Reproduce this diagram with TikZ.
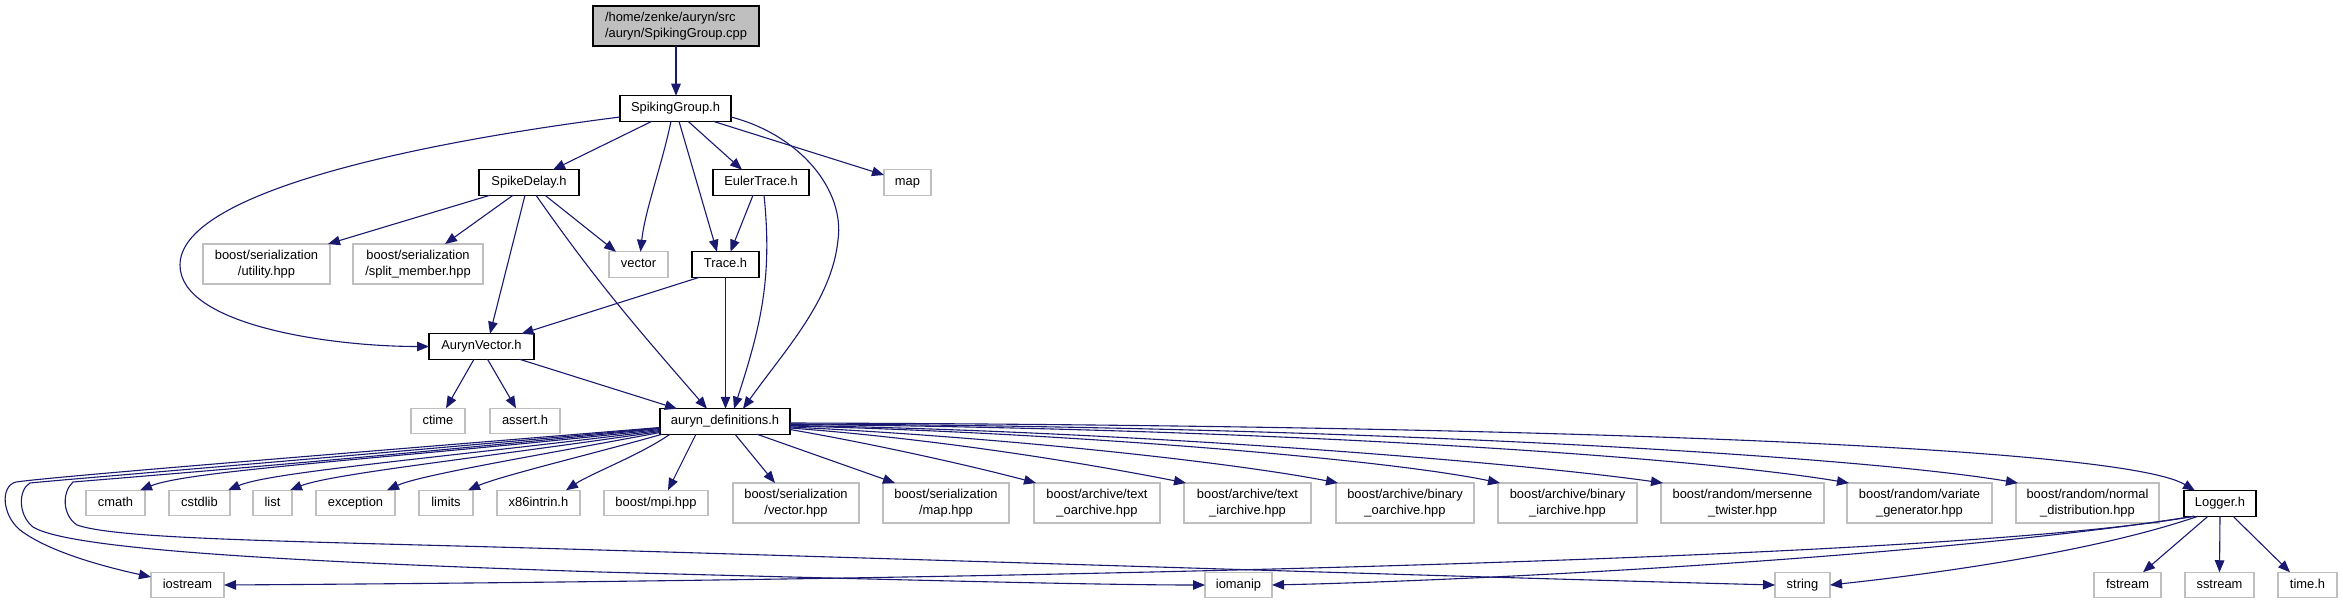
\documentclass[tikz,border=0pt]{standalone}
\usepackage{fontspec}
\setmainfont{Liberation Sans}
\usetikzlibrary{arrows.meta}
\definecolor{edgec}{HTML}{191970}
\definecolor{extc}{HTML}{BFBFBF}
\begin{document}
\begin{tikzpicture}[x=1pt,y=-1pt,
  nbox/.style={rectangle, inner sep=0pt, outer sep=0pt, line width=1.2pt, font=\fontsize{12.9}{15.5}\selectfont, align=center},
  doc/.style={nbox, draw=black, fill=white},
  ext/.style={nbox, draw=extc, fill=white},
  one/.style={minimum height=25.5pt, text height=9.4pt, text depth=2.8pt},
  two/.style={minimum height=40pt},
  conn/.style={draw=edgec, line width=1.1pt, -{Triangle[length=12pt,width=9.5pt]}}
]
\useasboundingbox (0,0) rectangle (2343,604);
\fill[white] (0,0) rectangle (2343,604);

% nodes
\node[doc, two, fill=extc, align=left, minimum width=166pt] (top) at (676,26) {/home/zenke/auryn/src\\/auryn/SpikingGroup.cpp};
\node[doc, one, minimum width=111pt] (SG) at (675.5,108.5) {SpikingGroup.h};
\node[doc, one, minimum width=100pt] (SD) at (529,182.5) {SpikeDelay.h};
\node[doc, one, minimum width=96pt] (ET) at (761,182.5) {EulerTrace.h};
\node[ext, one, minimum width=47pt] (map) at (907.5,182.5) {map};
\node[ext, two, minimum width=127pt] (util) at (266.5,264) {boost/serialization\\/utility.hpp};
\node[ext, two, minimum width=130pt] (split) at (418,264) {boost/serialization\\/split\_member.hpp};
\node[ext, one, minimum width=59pt] (vec) at (638.5,264.5) {vector};
\node[doc, one, minimum width=67pt] (trace) at (725.5,264.5) {Trace.h};
\node[doc, one, minimum width=105pt] (AV) at (481.5,346.5) {AurynVector.h};
\node[ext, one, minimum width=54pt] (ctime) at (438,421) {ctime};
\node[ext, one, minimum width=70pt] (assert) at (525,421) {assert.h};
\node[doc, one, minimum width=130pt] (AD) at (725,421.5) {auryn\_definitions.h};

\node[ext, one, minimum width=59pt] (cmath) at (115.5,503) {cmath};
\node[ext, one, minimum width=61pt] (cstdlib) at (199.5,503) {cstdlib};
\node[ext, one, minimum width=39pt] (list) at (272.5,503) {list};
\node[ext, one, minimum width=79pt] (exc) at (355.5,503) {exception};
\node[ext, one, minimum width=54pt] (limits) at (446,503) {limits};
\node[ext, one, minimum width=83pt] (x86) at (538.5,503) {x86intrin.h};
\node[ext, one, minimum width=104pt] (mpi) at (656,503) {boost/mpi.hpp};
\node[ext, two, minimum width=126pt] (svec) at (796,503) {boost/serialization\\/vector.hpp};
\node[ext, two, minimum width=126pt] (smap) at (946,503) {boost/serialization\\/map.hpp};
\node[ext, two, minimum width=126pt] (tarc) at (1097,503) {boost/archive/text\\\_oarchive.hpp};
\node[ext, two, minimum width=127pt] (tiarc) at (1247.5,503) {boost/archive/text\\\_iarchive.hpp};
\node[ext, two, minimum width=138pt] (boarc) at (1405,503) {boost/archive/binary\\\_oarchive.hpp};
\node[ext, two, minimum width=139pt] (biarc) at (1567.5,503) {boost/archive/binary\\\_iarchive.hpp};
\node[ext, two, minimum width=163pt] (mt) at (1742.5,503) {boost/random/mersenne\\\_twister.hpp};
\node[ext, two, minimum width=145pt] (vg) at (1919.5,503) {boost/random/variate\\\_generator.hpp};
\node[ext, two, minimum width=143pt] (nd) at (2087.5,503) {boost/random/normal\\\_distribution.hpp};
\node[doc, one, minimum width=72pt] (log) at (2220,503.5) {Logger.h};

\node[ext, one, minimum width=73pt] (ios) at (187.5,585) {iostream};
\node[ext, one, minimum width=67pt] (iom) at (1238.5,585) {iomanip};
\node[ext, one, minimum width=55pt] (str) at (1802.5,585) {string};
\node[ext, one, minimum width=67pt] (fst) at (2127.5,585) {fstream};
\node[ext, one, minimum width=69pt] (sst) at (2219.5,585) {sstream};
\node[ext, one, minimum width=59pt] (tim) at (2307.5,585) {time.h};

% top part
\draw[conn] (top.south) -- (top.south |- SG.north);
\draw[conn] ([xshift=-23.5pt]SG.south) -- ([xshift=24pt]SD.north);
\draw[conn] ([xshift=-4.5pt]SG.south) .. controls (662,165) and (645,210) .. ([xshift=2pt]vec.north);
\draw[conn] ([xshift=3.5pt]SG.south) -- ([xshift=-8.5pt]trace.north);
\draw[conn] ([xshift=12.5pt]SG.south) -- ([xshift=-19pt]ET.north);
\draw[conn] ([xshift=37.5pt]SG.south) -- ([yshift=7.5pt]map.west);
\draw[conn] ([yshift=-8.5pt]SG.east) .. controls (800,135) and (845,190) .. (838,240) .. controls (832,300) and (785,350) .. ([xshift=18pt]AD.north);
\draw[conn] ([yshift=-8.5pt]SG.west) .. controls (400,145) and (180,195) .. (180,265) .. controls (180,325) and (330,346.5) .. (AV.west);

\draw[conn] ([xshift=-39pt]SD.south) -- ([xshift=61.5pt]util.north);
\draw[conn] ([xshift=-16pt]SD.south) -- ([xshift=27pt]split.north);
\draw[conn] ([xshift=16pt]SD.south) -- ([xshift=-22.5pt]vec.north);
\draw[conn] ([xshift=-4pt]SD.south) -- ([xshift=8.5pt]AV.north);
\draw[conn] ([xshift=7pt]SD.south) to[out=-55,in=131] ([xshift=-18pt]AD.north);

\draw[conn] ([xshift=-8pt]ET.south) -- ([xshift=5pt]trace.north);
\draw[conn] ([xshift=3pt]ET.south) to[out=-84,in=72] ([xshift=9pt]AD.north);

\draw[conn] ([xshift=-26pt]trace.south) -- ([xshift=40pt]AV.north);
\draw[conn] (trace.south) -- (trace.south |- AD.north);

\draw[conn] ([xshift=-7.5pt]AV.south) -- ([xshift=8pt]ctime.north);
\draw[conn] ([xshift=6pt]AV.south) -- ([xshift=-9pt]assert.north);
\draw[conn] ([xshift=38pt]AV.south) -- ([xshift=-48pt]AD.north);

% auryn_definitions fan, left
\draw[conn] ([yshift=-8pt]AD.west) .. controls (400,458) and (190,470) .. ([xshift=24.5pt]cmath.north);
\draw[conn] ([yshift=-9pt]AD.west) .. controls (440,458) and (270,472) .. ([xshift=28.5pt]cstdlib.north);
\draw[conn] ([yshift=-10pt]AD.west) .. controls (480,458) and (330,474) .. ([xshift=17.5pt]list.north);
\draw[conn] ([yshift=-11pt]AD.west) .. controls (540,455) and (420,475) .. ([xshift=31.5pt]exc.north);
\draw[conn] ([xshift=-63pt]AD.south) .. controls (600,452) and (500,476) .. ([xshift=22pt]limits.north);
\draw[conn] ([xshift=-55pt]AD.south) .. controls (640,455) and (590,474) .. ([xshift=27.5pt]x86.north);
\draw[conn] ([xshift=-29pt]AD.south) -- ([xshift=12pt]mpi.north);
\draw[conn] ([xshift=10pt]AD.south) -- ([xshift=-21pt]svec.north);
\draw[conn] ([xshift=32pt]AD.south) -- ([xshift=-51pt]smap.north);

% auryn_definitions fan, right
\draw[conn] ([yshift=-8pt]AD.east) .. controls (880,445) and (980,468) .. ([xshift=-61pt]tarc.north);
\draw[conn] ([yshift=-6.5pt]AD.east) .. controls (950,440) and (1100,466) .. ([xshift=-61.5pt]tiarc.north);
\draw[conn] ([yshift=-5.5pt]AD.east) .. controls (1000,437) and (1230,462) .. ([xshift=-67pt]boarc.north);
\draw[conn] ([yshift=-4.5pt]AD.east) .. controls (1050,432) and (1380,458) .. ([xshift=-67.5pt]biarc.north);
\draw[conn] ([yshift=-4pt]AD.east) .. controls (1100,430) and (1500,460) .. ([xshift=-79.5pt]mt.north);
\draw[conn] ([yshift=-3pt]AD.east) .. controls (1250,428) and (1680,455) .. ([xshift=-70.5pt]vg.north);
\draw[conn] ([yshift=-2.5pt]AD.east) .. controls (1350,426) and (1850,455) .. ([xshift=-69.5pt]nd.north);
\draw[conn] ([yshift=-1.5pt]AD.east) .. controls (1500,425) and (2120,445) .. ([xshift=-25pt]log.north);

% auryn_definitions long curves round the left
\draw[conn] ([yshift=-6pt]AD.west) .. controls (300,457) and (60,476) .. (16,482) .. controls (0,486) and (2,515) .. (20,530) .. controls (50,553) and (110,568) .. ([yshift=8pt]ios.west);
\draw[conn] ([yshift=-6.5pt]AD.west) .. controls (320,459) and (80,478) .. (30,483) .. controls (18,490) and (18,515) .. (33,527) .. controls (70,550) and (300,562) .. (600,572) .. controls (900,580) and (1100,585) .. (iom.west);
\draw[conn] ([yshift=-7pt]AD.west) .. controls (350,460) and (120,478) .. (73,482) .. controls (62,492) and (62,515) .. (77,525) .. controls (120,540) and (300,541) .. (600,550) .. controls (1100,565) and (1500,578) .. (str.west);

% Logger
\draw[conn] ([xshift=-26pt]log.south) .. controls (1950,560) and (1000,580) .. (ios.east);
\draw[conn] ([xshift=-26pt]log.south) .. controls (1950,555) and (1500,580) .. (iom.east);
\draw[conn] ([xshift=-22pt]log.south) .. controls (2100,550) and (1950,572) .. (str.east);
\draw[conn] ([xshift=-12pt]log.south) -- ([xshift=15.5pt]fst.north);
\draw[conn] (log.south) -- (sst.north);
\draw[conn] ([xshift=13pt]log.south) -- ([xshift=-17.5pt]tim.north);
\end{tikzpicture}
\end{document}
